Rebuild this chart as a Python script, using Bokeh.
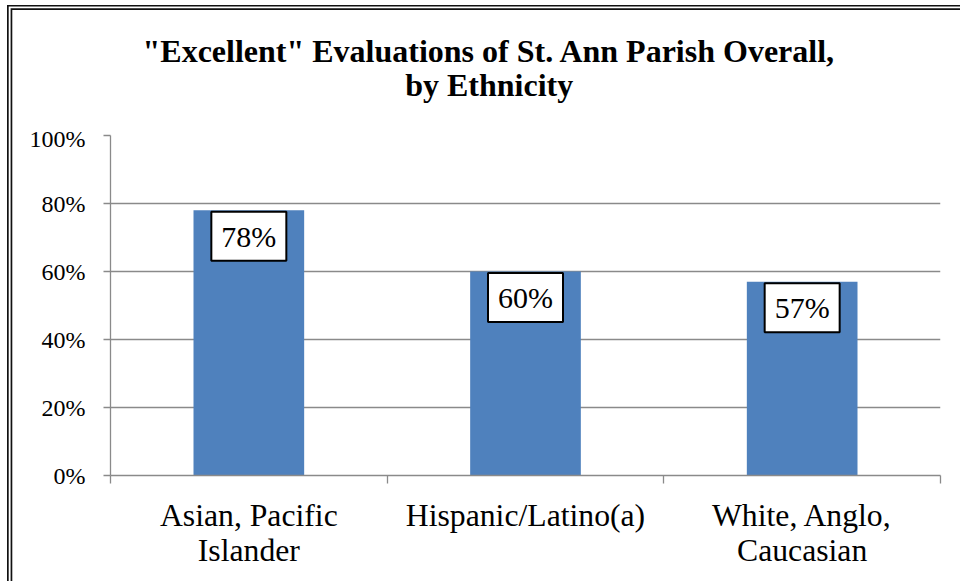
from bokeh.plotting import figure
from bokeh.layouts import column
from bokeh.models import (Range1d, FixedTicker, LinearAxis, Label, ColumnDataSource,
                          PrintfTickFormatter, Grid)
from bokeh.embed import file_html
from bokeh.resources import INLINE

# ---- data ----
title_lines = ['"Excellent" Evaluations of St. Ann Parish Overall,', 'by Ethnicity']
categories = ["Asian, Pacific\nIslander", "Hispanic/Latino(a)", "White, Anglo,\nCaucasian"]
values = [78, 60, 57]
value_labels = ["78%", "60%", "57%"]
y_ticks = [0, 20, 40, 60, 80, 100]

# ---- style / layout ----
FONT = "Liberation Serif"
GRAY = "#8a8a8a"
BAR = "#4F81BD"
W, H = 960, 581
TITLE_H = 125
TITLE_CX = 438                 # horizontal anchor of the title in the title strip
TITLE_BASELINES = [50, 84]     # baseline anchors of the title lines, from top

positions = [i + 0.5 for i in range(len(categories))]
boundaries = list(range(len(categories) + 1))

# ---- title strip ----
t = figure(width=W, height=TITLE_H, output_backend="svg", toolbar_location=None,
           x_range=Range1d(0, W), y_range=Range1d(0, TITLE_H),
           x_axis_type=None, y_axis_type=None,
           min_border=0, min_border_left=0, min_border_right=0,
           min_border_top=0, min_border_bottom=0)
t.title = None
t.outline_line_color = None
t.background_fill_color = None
t.border_fill_color = None
t.xgrid.visible = False
t.ygrid.visible = False
for line, base in zip(title_lines, TITLE_BASELINES):
    t.add_layout(Label(x=TITLE_CX, y=TITLE_H - base, text=line,
                       text_align="center", text_baseline="alphabetic",
                       text_font=FONT, text_font_size="32px", text_font_style="bold",
                       text_color="black"))

# ---- chart ----
p = figure(width=W, height=H - TITLE_H, output_backend="svg", toolbar_location=None,
           x_range=Range1d(0, len(categories)), y_range=Range1d(0, y_ticks[-1]),
           x_axis_type=None, y_axis_type=None,
           min_border_left=110, min_border_right=20, min_border_top=10, min_border_bottom=106)
p.title = None
p.outline_line_color = None
p.background_fill_color = "white"
p.border_fill_color = None

# y axis
yaxis = LinearAxis(ticker=FixedTicker(ticks=y_ticks), formatter=PrintfTickFormatter(format="%d%%"))
yaxis.axis_line_color = GRAY
yaxis.axis_line_width = 1.3
yaxis.major_tick_line_color = GRAY
yaxis.major_tick_line_width = 1.3
yaxis.major_tick_out = 7
yaxis.major_tick_in = 0
yaxis.minor_tick_line_color = None
yaxis.major_label_text_font = FONT
yaxis.major_label_text_font_size = "24px"
yaxis.major_label_text_color = "black"
yaxis.major_label_standoff = 18
p.add_layout(yaxis, "left")

p.add_layout(Grid(dimension=1, ticker=FixedTicker(ticks=y_ticks),
                  grid_line_color=GRAY, grid_line_width=1.3))

# x axis: labels at category centres, tick marks at category boundaries
xaxis = LinearAxis(ticker=FixedTicker(ticks=positions, minor_ticks=boundaries),
                   major_label_overrides={pos: cat for pos, cat in zip(positions, categories)})
xaxis.axis_line_color = GRAY
xaxis.axis_line_width = 1.3
xaxis.major_tick_line_color = None
xaxis.major_tick_out = 0
xaxis.major_tick_in = 0
xaxis.minor_tick_line_color = GRAY
xaxis.minor_tick_line_width = 1.3
xaxis.minor_tick_out = 8
xaxis.minor_tick_in = 0
xaxis.major_label_text_font = FONT
xaxis.major_label_text_font_size = "31.7px"
xaxis.major_label_text_color = "black"
xaxis.major_label_text_line_height = 1.02
xaxis.major_label_standoff = 14
p.add_layout(xaxis, "below")

src = ColumnDataSource(dict(x=positions, top=values, label=value_labels))
p.vbar(x="x", top="top", width=0.4, source=src, fill_color=BAR, line_color=None)

for xv, yv, lab in zip(positions, values, value_labels):
    p.add_layout(Label(x=xv, y=yv, text=lab, y_offset=-26,
                       text_align="center", text_baseline="middle",
                       text_font=FONT, text_font_size="30px", text_color="black",
                       background_fill_color="white", border_line_color="black",
                       border_line_width=2, padding=(10, 8)))

layout = column(t, p, spacing=0)
# double border of the chart area (only its left and top edges fall inside the crop)
layout.styles = {
    "background-color": "white",
    "box-shadow": ("inset 7px 5px 0 0 #fff, inset 8.7px 6.4px 0 0 #111, "
                   "inset 10.6px 8.3px 0 0 #fff, inset 12.3px 10px 0 0 #111"),
}

open("out.html", "w").write(file_html(layout, INLINE))
